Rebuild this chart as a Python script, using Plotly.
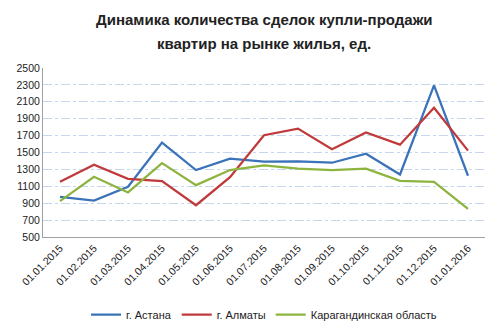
import plotly.graph_objects as go

dates = ["01.01.2015", "01.02.2015", "01.03.2015", "01.04.2015", "01.05.2015", "01.06.2015",
         "01.07.2015", "01.08.2015", "01.09.2015", "01.10.2015", "01.11.2015", "01.12.2015", "01.01.2016"]
astana = [975, 932, 1094, 1617, 1292, 1427, 1391, 1395, 1379, 1486, 1240, 2294, 1225]
almaty = [1153, 1355, 1189, 1161, 876, 1209, 1704, 1783, 1538, 1736, 1593, 2029, 1522]
karaganda = [924, 1213, 1027, 1375, 1114, 1292, 1347, 1308, 1292, 1308, 1165, 1153, 833]
names = ["г. Астана", "г. Алматы", "Карагандинская область"]
colors = ["#3a73b8", "#c0393b", "#8db43e"]
title_lines = ["Динамика количества сделок купли-продажи", "квартир на рынке жилья, ед."]

fig = go.Figure()
for name, vals, c in zip(names, [astana, almaty, karaganda], colors):
    fig.add_trace(go.Scatter(x=dates, y=vals, name=name, mode="lines",
                             line=dict(color=c, width=2.25)))

for i, t in enumerate(title_lines):
    fig.add_annotation(text="<b>" + t + "</b>", xref="paper", yref="paper",
                       x=0.5, y=1 + (48 - 24 * i) / 169, xanchor="center", yanchor="middle",
                       showarrow=False, font=dict(size=15, color="#222"))

fig.update_layout(
    width=500, height=333,
    margin=dict(l=43, r=15, t=68, b=96, autoexpand=False),
    paper_bgcolor="white", plot_bgcolor="white",
    font=dict(family="Liberation Sans, Arial, sans-serif", size=10, color="#222"),
    legend=dict(orientation="h", x=0.5, xanchor="center", y=-0.46, yanchor="middle",
                font=dict(size=11), itemwidth=30, tracegroupgap=0),
    showlegend=True,
)
fig.update_xaxes(type="category", range=[-0.5, len(dates) - 0.5], tickangle=-45, showline=True,
                 automargin=False,
                 linecolor="#a0a0a0", linewidth=1, showgrid=False, ticks="", tickfont=dict(size=10.5))
fig.update_yaxes(range=[500, 2500], dtick=200, tick0=500, showline=True, linecolor="#a0a0a0",
                 automargin=False,
                 linewidth=1, showgrid=True, gridcolor="#c5d7ee", griddash="dashdot",
                 zeroline=False, ticks="", tickfont=dict(size=10.5))

fig.write_html("out.html")
